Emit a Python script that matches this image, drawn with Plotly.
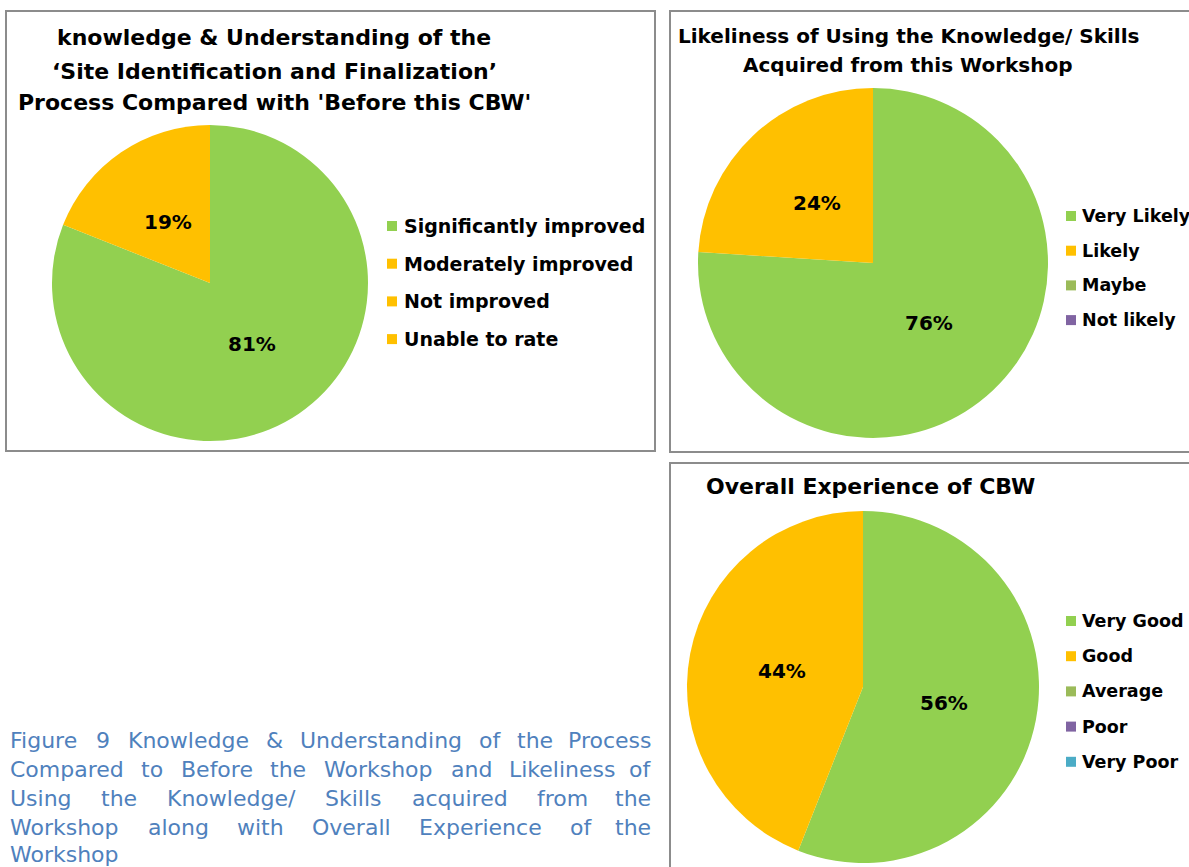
import math
import plotly.graph_objects as go

W, H = 1189, 867

# ---- data ----
c1_title = ["knowledge & Understanding of the",
            "‘Site Identification and Finalization’",
            "Process Compared with 'Before this CBW'"]
c1_labels = ["Significantly improved", "Moderately improved", "Not improved", "Unable to rate"]
c1_values = [81, 19, 0, 0]
c1_colors = ["#92D050", "#FFC000", "#FFC000", "#FFC000"]

c2_title = ["Likeliness of Using the Knowledge/ Skills",
            "Acquired from this Workshop"]
c2_labels = ["Very Likely", "Likely", "Maybe", "Not likely"]
c2_values = [76, 24, 0, 0]
c2_colors = ["#92D050", "#FFC000", "#9BBB59", "#8064A2"]

c3_title = ["Overall Experience of CBW"]
c3_labels = ["Very Good", "Good", "Average", "Poor", "Very Poor"]
c3_values = [56, 44, 0, 0, 0]
c3_colors = ["#92D050", "#FFC000", "#9BBB59", "#8064A2", "#4BACC6"]

caption_lines = [
    "Figure 9 Knowledge & Understanding of the Process",
    "Compared to Before the Workshop and Likeliness of",
    "Using the Knowledge/ Skills acquired from the",
    "Workshop along with Overall Experience of the",
    "Workshop",
]
caption_justify = [True, True, True, True, False]

FONT = "DejaVu Sans"
BLUE = "#4F81BD"
CAP_SIZE = 22

# approximate DejaVu Sans advance widths (em) for justification
_CW = {
    ' ': .318, 'a': .613, 'b': .635, 'c': .550, 'd': .635, 'e': .615, 'f': .352, 'g': .635,
    'h': .634, 'i': .278, 'k': .579, 'l': .278, 'm': .974, 'n': .634, 'o': .612, 'p': .635,
    'q': .635, 'r': .411, 's': .521, 't': .392, 'u': .634, 'v': .592, 'w': .818, 'y': .592,
    'z': .525, 'A': .684, 'B': .686, 'C': .698, 'E': .632, 'F': .575, 'K': .656, 'L': .557,
    'O': .787, 'P': .603, 'S': .635, 'U': .732, 'W': .989, '9': .636, '&': .780, '/': .337,
}


def text_w(s, size):
    return sum(_CW.get(ch, .6) for ch in s) * size


def X(px):
    return px / W


def Y(py):
    return 1 - py / H


fig = go.Figure()
shapes = []
annotations = []


def add_pie(labels, values, colors, cx, cy, r):
    fig.add_trace(go.Pie(
        labels=labels, values=values, sort=False, direction="clockwise",
        rotation=0,
        marker=dict(colors=colors, line=dict(width=0)),
        textinfo="none",
        domain=dict(x=[X(cx - r), X(cx + r)], y=[Y(cy + r), Y(cy - r)]),
        showlegend=False, hoverinfo="label+percent",
    ))
    # percentage labels placed at each slice's middle angle
    total = sum(values)
    cum = 0
    for v in values:
        if v > 0:
            mid = (cum + v / 2) / total * 2 * math.pi
            rr = 0.47 * r
            lx = cx + rr * math.sin(mid)
            ly = cy - rr * math.cos(mid)
            annotations.append(dict(text=f"<b>{round(v / total * 100)}%</b>", x=X(lx), y=Y(ly),
                                    xref="paper", yref="paper", xanchor="center", yanchor="middle",
                                    showarrow=False, font=dict(family=FONT, size=20, color="black")))
        cum += v


add_pie(c1_labels, c1_values, c1_colors, 210, 283, 158)
add_pie(c2_labels, c2_values, c2_colors, 873, 263, 175)
add_pie(c3_labels, c3_values, c3_colors, 863, 687, 176)

# chart borders
for (x0, y0, x1, y1) in [(6, 11, 655, 451), (670, 11, 1195, 452), (670, 463, 1195, 875)]:
    shapes.append(dict(type="rect", xref="paper", yref="paper",
                       x0=X(x0), x1=X(x1), y0=Y(y1), y1=Y(y0),
                       line=dict(color="#8C8C8C", width=2), fillcolor="rgba(0,0,0,0)"))

# titles
for lines, cx, ys, size in [(c1_title, 274, [38, 71, 103], 22),
                            (c2_title, 908, [36, 65], 20),
                            (c3_title, 870, [486], 22)]:
    for text, cy in zip(lines, ys):
        annotations.append(dict(text=f"<b>{text}</b>", x=X(cx), y=Y(cy), xref="paper", yref="paper",
                                xanchor="center", yanchor="middle", showarrow=False,
                                font=dict(family=FONT, size=size, color="black")))


# manual legends
def add_legend(labels, colors, mx, tx, y_first, step, size):
    for i, (lab, col) in enumerate(zip(labels, colors)):
        yc = y_first + i * step
        shapes.append(dict(type="rect", xref="paper", yref="paper",
                           x0=X(mx - 5), x1=X(mx + 5), y0=Y(yc + 5), y1=Y(yc - 5),
                           line=dict(width=0), fillcolor=col))
        annotations.append(dict(text=f"<b>{lab}</b>", x=X(tx), y=Y(yc), xref="paper", yref="paper",
                                xanchor="left", yanchor="middle", showarrow=False,
                                font=dict(family=FONT, size=size, color="black")))


add_legend(c1_labels, c1_colors, 392, 402, 226, 37.7, 19)
add_legend(c2_labels, c2_colors, 1071, 1080, 216, 34.7, 17.5)
add_legend(c3_labels, c3_colors, 1071, 1080, 621, 35.2, 17.5)

# caption, justified between left and right margins
CAP_L, CAP_R = 8, 653
caption_y = [740, 769, 798, 827, 854]
for line, just, cy in zip(caption_lines, caption_justify, caption_y):
    words = line.split(" ")
    widths = [text_w(w, CAP_SIZE) for w in words]
    if just and len(words) > 1:
        gap = (CAP_R - CAP_L - sum(widths)) / (len(words) - 1)
    else:
        gap = text_w(" ", CAP_SIZE)
    x = CAP_L
    for i, (word, w) in enumerate(zip(words, widths)):
        last = just and i == len(words) - 1 and len(words) > 1
        annotations.append(dict(text=word, x=X(CAP_R if last else x), y=Y(cy),
                                xref="paper", yref="paper",
                                xanchor="right" if last else "left", yanchor="middle",
                                showarrow=False,
                                font=dict(family=FONT, size=CAP_SIZE, color=BLUE)))
        x += w + gap

fig.update_layout(
    width=W, height=H, margin=dict(l=0, r=0, t=0, b=0),
    paper_bgcolor="white", plot_bgcolor="white",
    shapes=shapes, annotations=annotations,
    font=dict(family=FONT),
)

fig.write_html("out.html", config={"displayModeBar": False},
               post_script="document.body.style.margin='0';")
